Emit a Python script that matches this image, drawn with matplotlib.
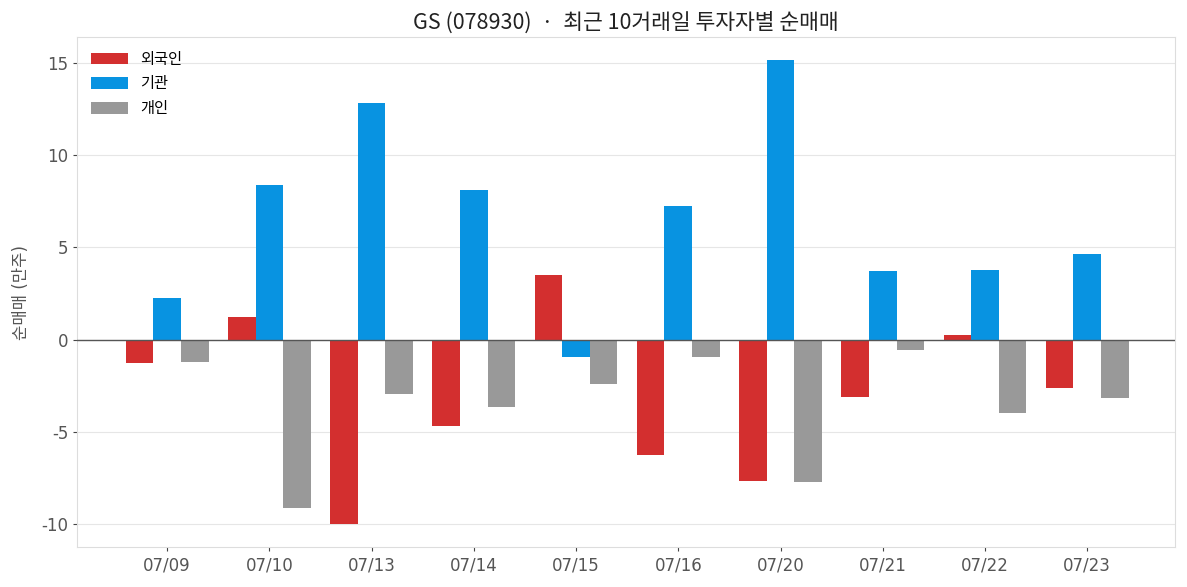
import matplotlib
matplotlib.use("Agg")
import matplotlib.pyplot as plt
import numpy as np

plt.rcParams['font.family'] = ['DejaVu Sans', 'Noto Sans CJK KR']
plt.rcParams['axes.unicode_minus'] = False

dates = ["07/09", "07/10", "07/13", "07/14", "07/15", "07/16", "07/20", "07/21", "07/22", "07/23"]
foreign = [-1.25, 1.2, -10.0, -4.67, 3.53, -6.25, -7.66, -3.1, 0.27, -2.6]
institution = [2.28, 8.37, 12.83, 8.1, -0.92, 7.23, 15.16, 3.7, 3.8, 4.67]
individual = [-1.2, -9.13, -2.93, -3.64, -2.39, -0.92, -7.72, -0.54, -3.97, -3.15]

fig, ax = plt.subplots(figsize=(11.87, 5.87), dpi=100)
fig.subplots_adjust(left=0.065, right=0.99, top=0.937, bottom=0.068)

x = np.arange(len(dates))
w = 0.27
ax.bar(x - w, foreign, w, color="#d32f2f", label="외국인", zorder=3)
ax.bar(x, institution, w, color="#0893e1", label="기관", zorder=3)
ax.bar(x + w, individual, w, color="#999999", label="개인", zorder=3)

ax.axhline(0, color="#555555", linewidth=1, zorder=4)
ax.grid(axis="y", color="#e6e6e6", linewidth=0.8, zorder=0)
ax.set_axisbelow(True)

ax.set_xticks(x)
ax.set_xticklabels(dates)
ax.set_xlim(-0.88, 9.86)
ax.set_yticks([-10, -5, 0, 5, 10, 15])

for s in ax.spines.values():
    s.set_color("#dddddd")

ax.tick_params(axis="both", colors="#444444", labelsize=12, length=3)
ax.tick_params(axis="x", labelcolor="#555555")
ax.tick_params(axis="y", labelcolor="#555555")

ax.set_ylabel("순매매 (만주)", fontsize=12, color="#555555", labelpad=8)
ax.set_title("GS (078930)  ·  최근 10거래일 투자자별 순매매", fontsize=15.5, color="#222222", pad=6,
             family=['Noto Sans CJK KR', 'DejaVu Sans'])

ax.legend(loc="upper left", frameon=False, prop={'family': ['Noto Sans CJK KR'], 'size': 11},
          handlelength=2.4, handleheight=0.8)

plt.savefig("out.png")
